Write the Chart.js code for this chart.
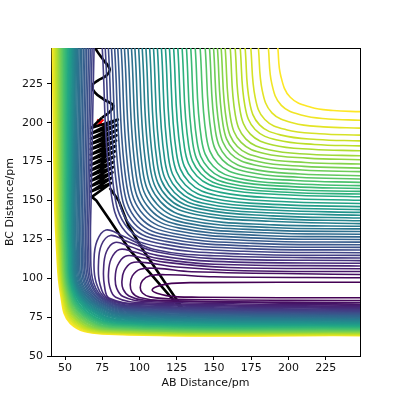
<!DOCTYPE html>
<html>
<head>
<meta charset="utf-8">
<script src="https://cdn.jsdelivr.net/npm/chart.js@4"></script>
<style>
  html, body { margin: 0; padding: 0; background: #fff; }
  canvas { display: block; }
</style>
</head>
<body>
<canvas id="pes" width="400" height="400"></canvas>
<script>
const xTicks = [50, 75, 100, 125, 150, 175, 200, 225];
const yTicks = [50, 75, 100, 125, 150, 175, 200, 225];
const levelCount = 50;

// contour levels 0-8: loops lying in the BC valley (x,y pairs)
const valleyLoops = [
  [248,87.4, 140,87.8, 118,88.8, 108.5,92.4, 118,96.2, 140,97.2, 248,97.4],
  [248,85.7, 125,86.5, 107,88.0, 102,90.5, 100.5,94, 102,98.5, 107,101.6, 120,102.2, 150,100.9, 248,100.3],
  [248,84.3, 115,85.6, 100,87.6, 95,91, 93.8,96, 95.2,101.5, 100.5,105.8, 112,106.3, 135,104.2, 248,102.4],
  [248,83.3, 103.8,85.8, 93,88.6, 89,93, 88.2,98, 89.6,104.5, 94.5,109.8, 104,110, 125,107.2, 170,104.8, 248,104.3],
  [248,82.5, 103.1,85.0, 89,88.2, 84.7,93.5, 83.7,100, 85.2,108, 90.5,114.2, 100,113.5, 118,110.2, 160,106.9, 248,106.1],
  [248,81.8, 102.5,84.2, 84,87.8, 80,94.5, 79.2,103, 81,112.5, 86.5,118.5, 96,117, 113,112.6, 150,109, 248,107.9],
  [248,81.1, 101.9,83.5, 79.8,87.1, 76.5,95, 75.9,106, 77.8,117, 83.5,123, 93,120.5, 112,114.7, 150,110.8, 248,109.6],
  [248,80.5, 101.3,82.9, 79.2,86.8, 73.5,96, 72.5,110, 74.5,121.5, 80.5,127.5, 91,124, 112,116.8, 150,112.6, 248,111.3],
  [248,79.9, 100.6,82.2, 78.6,86.4, 71,97, 69.5,112, 71.5,124, 77.5,131, 88,127.5, 110,118.5, 150,114.4, 248,113.0]
];

// contour levels 9-49: branch along the repulsive wall
const wallLines = [
  [69.5,248, 67.5,150, 67.2,118, 69.2,97.0, 78.0,86.0, 100.0,81.6, 248,79.3],
  [68.2,248, 66.3,150, 66.0,118, 68.0,96.8, 77.4,85.6, 99.4,81.1, 248,78.8],
  [67.0,248, 65.2,150, 64.9,118, 67.0,96.7, 76.8,85.3, 98.8,80.5, 248,78.3],
  [65.8,248, 64.1,150, 63.9,118, 65.9,96.5, 76.2,84.9, 98.1,80.0, 248,77.8],
  [64.6,248, 63.0,150, 62.8,118, 64.9,96.3, 75.6,84.5, 97.5,79.5, 248,77.3],
  [63.5,248, 61.9,150, 61.9,118, 63.9,96.1, 74.9,84.1, 96.9,79.0, 248,76.8],
  [62.4,248, 60.9,150, 60.9,118, 63.0,96.0, 74.3,83.8, 96.3,78.4, 248,76.3],
  [61.3,248, 59.9,150, 59.9,118, 62.0,95.8, 73.7,83.4, 95.6,77.9, 248,75.8],
  [60.3,248, 59.0,150, 59.0,118, 61.2,95.6, 73.1,83.0, 95.0,77.4, 248,75.3],
  [59.4,248, 58.2,150, 58.3,118, 60.4,95.4, 72.5,82.6, 94.4,76.8, 248,74.8],
  [58.5,248, 57.4,150, 57.5,118, 59.7,95.3, 71.9,82.3, 93.8,76.3, 248,74.3],
  [57.7,248, 56.7,150, 56.8,118, 59.0,95.1, 71.3,81.9, 93.1,75.8, 248,73.8],
  [57.0,248, 56.1,150, 56.3,118, 58.4,94.9, 70.7,81.5, 92.5,75.2, 248,73.3],
  [56.5,248, 55.6,150, 55.8,118, 58.0,94.7, 70.0,81.1, 91.9,74.7, 248,72.8],
  [55.9,248, 55.1,150, 55.4,118, 57.6,94.6, 69.4,80.8, 91.3,74.2, 248,72.3],
  [55.3,248, 54.6,150, 55.0,118, 57.2,94.4, 68.8,80.4, 90.6,73.7, 248,71.8],
  [54.8,248, 54.2,150, 54.6,118, 56.8,94.2, 68.2,80.0, 90.0,73.1, 248,71.3],
  [54.2,248, 53.7,150, 54.1,118, 56.4,94.0, 67.6,79.6, 89.4,72.7, 248,70.9],
  [53.7,248, 53.3,150, 53.7,118, 56.0,93.9, 67.0,79.3, 88.8,72.3, 248,70.5],
  [53.1,248, 52.8,150, 53.3,118, 55.6,93.7, 66.4,78.9, 88.1,71.8, 248,70.1],
  [52.6,248, 52.4,150, 52.9,118, 55.2,93.5, 65.8,78.5, 87.5,71.4, 248,69.7],
  [52.0,248, 51.8,150, 52.4,118, 54.8,93.3, 65.1,78.1, 86.9,71.0, 248,69.3],
  [51.5,248, 51.4,150, 52.1,118, 54.4,93.2, 64.5,77.8, 86.3,70.5, 248,68.9],
  [50.9,248, 50.9,150, 51.6,118, 53.9,93.0, 63.9,77.4, 85.6,70.1, 248,68.5],
  [50.4,248, 50.5,150, 51.2,118, 53.6,92.8, 63.3,77.0, 85.0,69.7, 248,68.1],
  [49.8,248, 50.0,150, 50.8,118, 53.1,92.6, 62.7,76.6, 84.4,69.3, 248,67.7],
  [49.2,248, 49.5,150, 50.3,118, 52.7,92.5, 62.1,76.3, 83.8,68.8, 248,67.3],
  [48.7,248, 49.1,150, 49.9,118, 52.3,92.3, 61.5,75.9, 83.1,68.5, 248,66.95],
  [48.1,248, 48.6,150, 49.4,118, 51.9,92.1, 60.9,75.5, 82.5,68.1, 248,66.6],
  [47.6,248, 48.1,150, 49.1,118, 51.5,91.9, 60.3,75.1, 81.9,67.7, 248,66.25],
  [47.0,248, 47.6,150, 48.6,118, 51.1,91.8, 59.6,74.8, 81.3,67.3, 248,65.9],
  [46.5,248, 47.2,150, 48.2,118, 50.7,91.6, 59.0,74.4, 80.6,67.0, 248,65.6],
  [45.9,248, 46.7,150, 47.8,118, 50.2,91.4, 58.4,74.0, 80.0,66.7, 248,65.3],
  [45.4,248, 46.3,150, 47.4,118, 49.9,91.2, 57.8,73.6, 79.4,66.3, 248,65.0],
  [44.8,248, 45.8,150, 46.9,118, 49.4,91.1, 57.2,73.3, 78.8,66.0, 248,64.7],
  [44.3,248, 45.4,150, 46.6,118, 49.1,90.9, 56.6,72.9, 78.1,65.7, 248,64.4],
  [43.7,248, 44.9,150, 46.1,118, 48.6,90.7, 56.0,72.5, 77.5,65.3, 248,64.1],
  [43.2,248, 44.4,150, 45.7,118, 48.3,90.5, 55.4,72.1, 76.9,65.1, 248,63.85],
  [42.6,248, 43.9,150, 45.2,118, 47.8,90.4, 54.8,71.8, 76.3,64.8, 248,63.6],
  [42.1,248, 43.5,150, 44.9,118, 47.5,90.2, 54.1,71.4, 75.6,64.5, 248,63.35],
  [41.5,248, 43.0,150, 44.4,118, 47.0,90.0, 53.5,71.0, 75.0,64.2, 248,63.1]
];

// contour levels 9-49: branch towards the dissociation plateau
const outerLines = [
  [75.0,248, 80.5,158.0, 90.5,130.0, 114.0,120.0, 168,115.6, 248,114.7],
  [77.0,248, 82.5,159.0, 92.5,131.8, 115.8,121.9, 170,117.3, 248,116.4],
  [79.1,248, 84.6,160.0, 94.5,133.5, 117.6,123.7, 172,119.0, 248,118.1],
  [81.2,248, 86.7,161.0, 96.5,135.2, 119.4,125.4, 174,120.7, 248,119.8],
  [83.3,248, 88.8,162.0, 98.6,137.0, 121.2,127.1, 176,122.4, 248,121.5],
  [85.4,248, 90.9,163.0, 100.7,138.8, 123.0,128.8, 178,124.1, 248,123.2],
  [87.7,248, 93.1,164.1, 102.9,140.6, 124.9,130.5, 180,125.8, 248,124.9],
  [89.9,248, 95.4,165.3, 105.1,142.4, 126.8,132.2, 182,127.5, 248,126.6],
  [92.2,248, 97.7,166.6, 107.3,144.1, 128.7,133.9, 184,129.2, 248,128.3],
  [94.6,248, 100.0,167.8, 109.6,145.8, 130.6,135.6, 186,130.9, 248,130.0],
  [96.9,248, 102.2,169.2, 111.8,147.5, 132.6,137.3, 188,132.6, 248,131.7],
  [99.4,248, 104.6,170.5, 114.2,149.1, 134.6,139.0, 190,134.3, 248,133.4],
  [101.8,248, 107.1,171.5, 116.6,150.5, 137.6,141.0, 187.3,136.6, 248,135.1],
  [104.3,248, 109.4,172.6, 118.8,152.0, 139.4,142.6, 188.3,138.3, 248,136.9],
  [106.8,248, 111.9,173.9, 121.1,153.6, 141.4,144.4, 189.4,140.1, 248,138.7],
  [109.4,248, 114.3,175.0, 123.4,155.1, 143.3,146.0, 190.4,141.9, 248,140.5],
  [112.0,248, 116.9,176.2, 125.8,156.6, 145.4,147.7, 191.6,143.7, 248,142.3],
  [114.7,248, 119.5,177.4, 128.2,158.2, 147.4,149.5, 192.7,145.5, 248,144.1],
  [117.4,248, 122.2,178.9, 130.8,159.9, 149.8,151.3, 194.0,147.3, 248,146.0],
  [120.1,248, 124.8,180.4, 133.3,161.7, 152.0,153.2, 195.2,149.3, 248,148.0],
  [122.9,248, 127.5,182.1, 135.9,163.6, 154.4,155.2, 196.5,151.4, 248,150.1],
  [125.7,248, 130.2,183.9, 138.5,165.7, 156.7,157.4, 197.8,153.7, 248,152.4],
  [128.6,248, 133.0,185.2, 141.2,167.2, 159.2,159.0, 199.2,155.3, 248,154.1],
  [131.5,248, 135.8,186.5, 143.9,168.7, 161.7,160.6, 200.5,157.0, 248,155.8],
  [134.4,248, 138.6,187.9, 146.6,170.4, 164.1,162.4, 201.9,158.9, 248,157.7],
  [137.4,248, 141.6,189.3, 149.5,172.0, 166.8,164.1, 203.3,160.7, 248,159.5],
  [140.7,248, 144.9,190.9, 152.6,173.9, 169.6,166.2, 204.9,162.8, 248,161.6],
  [144.1,248, 148.2,192.7, 155.8,175.9, 172.6,168.3, 206.5,164.9, 248,163.8],
  [147.0,248, 151.0,194.4, 158.5,177.8, 175.1,170.3, 207.9,167.0, 248,165.9],
  [149.7,248, 153.6,196.5, 161.0,180.2, 177.3,172.8, 209.1,169.6, 248,168.5],
  [152.3,248, 156.1,198.4, 163.4,182.3, 179.5,175.0, 210.3,171.9, 248,170.8],
  [154.8,248, 158.5,200.5, 165.7,184.7, 181.5,177.5, 211.4,174.4, 248,173.4],
  [157.5,248, 161.1,202.9, 168.2,187.3, 183.8,180.2, 212.7,177.2, 248,176.2],
  [160.9,248, 164.3,205.0, 171.3,189.6, 186.7,182.6, 214.3,179.7, 248,178.7],
  [164.2,248, 167.5,207.7, 174.4,192.6, 189.5,185.7, 215.8,182.9, 248,181.9],
  [167.6,248, 170.8,210.5, 177.6,195.6, 192.5,188.8, 217.5,186.0, 248,185.1],
  [170.9,248, 173.9,213.2, 180.6,198.6, 195.2,192.0, 219.0,189.2, 248,188.3],
  [174.7,248, 177.6,216.4, 184.1,202.0, 198.5,195.5, 220.8,192.9, 248,192.0],
  [179.8,248, 182.4,220.6, 188.9,206.3, 203.2,199.8, 223.4,197.3, 248,196.5],
  [186.5,248, 188.8,225.1, 195.2,211.1, 209.2,204.7, 226.7,202.4, 248,201.6],
  [192.85,248, 194.8,230.2, 201.2,216.3, 215.1,209.9, 229.9,207.8, 248,207.1]
];

// trajectory, upper smooth part (AB, BC)
const topAB = [69.3, 71.5, 76.0, 80.0, 78.0, 72.0, 68.3, 70.0, 76.0, 82.4, 80.0, 74.8];
const topBC = [250.0, 246.0, 240.0, 234.5, 230.5, 227.0, 224.0, 219.5, 215.0, 211.0, 207.0, 203.2];

// trajectory, vibrating part and excursion into the BC valley (AB, BC)
const trajAB = [74.8,
  67.5, 85.5, 67.5, 85.2, 67.4, 84.9, 67.3, 84.6, 67.3, 84.3, 67.2, 83.9, 67.1, 83.5,
  67.1, 83.1, 67.0, 82.7, 67.0, 82.3, 67.1, 81.9, 67.2, 81.5, 67.4, 81.1, 68.0,
  71.0, 80.0, 93.8, 105.5, 120.0, 133.5,
  131.5, 118.0, 102.7, 92.5, 86.0, 80.0];
const trajBC = [203.2,
  196.5, 202.0, 193.1, 198.6, 189.7, 195.2, 186.3, 191.8, 182.9, 188.4, 179.5, 185.0, 176.1, 181.6,
  172.7, 178.2, 169.3, 174.8, 165.9, 171.4, 162.5, 168.0, 159.1, 164.6, 155.7, 161.2, 152.3,
  150.0, 137.5, 117.7, 105.0, 89.0, 74.8,
  77.0, 96.0, 117.7, 134.0, 150.0, 158.0];

const startAB = [73.7];
const startBC = [200];

const viridisStops = ['#440154', '#482475', '#414487', '#355f8d', '#2a788e', '#21918c',
  '#22a884', '#44bf70', '#7ad151', '#bddf26', '#fde725'];

function hexRgb(h) {
  return [parseInt(h.slice(1, 3), 16), parseInt(h.slice(3, 5), 16), parseInt(h.slice(5, 7), 16)];
}

function viridis(t) {
  const pos = t * (viridisStops.length - 1);
  const i = Math.min(Math.floor(pos), viridisStops.length - 2);
  const f = pos - i;
  const a = hexRgb(viridisStops[i]);
  const b = hexRgb(viridisStops[i + 1]);
  const c = a.map((v, j) => Math.round(v + (b[j] - v) * f));
  return `rgb(${c[0]}, ${c[1]}, ${c[2]})`;
}

const datasets = [];

function addContour(flat, level) {
  const pts = [];
  for (let i = 0; i < flat.length; i += 2) {
    pts.push({ x: flat[i], y: flat[i + 1] });
  }
  datasets.push({
    data: pts,
    showLine: true,
    borderColor: viridis(level / (levelCount - 1)),
    borderWidth: 1.6,
    pointRadius: 0,
    tension: 0.4,
    fill: false
  });
}

for (let k = 0; k < levelCount; k++) {
  if (k < valleyLoops.length) {
    addContour(valleyLoops[k], k);
  } else {
    addContour(wallLines[k - valleyLoops.length], k);
    addContour(outerLines[k - valleyLoops.length], k);
  }
}

datasets.push({
  data: topAB.map((v, i) => ({ x: v, y: topBC[i] })),
  showLine: true,
  borderColor: '#000',
  borderWidth: 2.6,
  pointRadius: 0,
  tension: 0.4,
  fill: false
});

datasets.push({
  data: trajAB.map((v, i) => ({ x: v, y: trajBC[i] })),
  showLine: true,
  borderColor: '#000',
  borderWidth: 2.6,
  borderJoinStyle: 'round',
  pointRadius: 0,
  tension: 0,
  fill: false
});

datasets.push({
  data: startAB.map((v, i) => ({ x: v, y: startBC[i] })),
  showLine: false,
  pointStyle: 'crossRot',
  pointRadius: 4.5,
  borderColor: '#ff0000',
  borderWidth: 2
});

const tickFont = { family: 'DejaVu Sans', size: 11 };

new Chart(document.getElementById('pes'), {
  type: 'scatter',
  data: { datasets: datasets },
  options: {
    responsive: false,
    animation: false,
    devicePixelRatio: 1,
    events: [],
    layout: { padding: { left: 0, right: 40, top: 48, bottom: 0 } },
    plugins: { legend: { display: false }, tooltip: { enabled: false } },
    scales: {
      x: {
        type: 'linear',
        position: 'bottom',
        min: 40.6,
        max: 248,
        z: 1,
        afterBuildTicks: axis => { axis.ticks = xTicks.map(v => ({ value: v })); },
        afterFit: axis => { axis.height = 44; },
        ticks: { font: tickFont, color: '#111', padding: 2, maxRotation: 0 },
        grid: { drawOnChartArea: false, tickLength: 4, color: '#000', lineWidth: 1 },
        border: { color: '#000', width: 1 },
        title: { display: true, text: 'AB Distance/pm', font: tickFont, color: '#111', padding: { top: 0, bottom: 10 } }
      },
      y: {
        type: 'linear',
        position: 'left',
        min: 50,
        max: 248,
        z: 1,
        afterBuildTicks: axis => { axis.ticks = yTicks.map(v => ({ value: v })); },
        afterFit: axis => { axis.width = 51; },
        ticks: { font: tickFont, color: '#111', padding: 4 },
        grid: { drawOnChartArea: false, tickLength: 4, color: '#000', lineWidth: 1 },
        border: { color: '#000', width: 1 },
        title: { display: true, text: 'BC Distance/pm', font: tickFont, color: '#111', padding: { top: 4, bottom: 0 } }
      },
      x2: {
        type: 'linear',
        position: 'top',
        min: 40.6,
        max: 248,
        z: 1,
        afterFit: axis => { axis.height = 0; },
        ticks: { display: false },
        grid: { display: false },
        border: { display: true, color: '#000', width: 1 }
      },
      y2: {
        type: 'linear',
        position: 'right',
        min: 50,
        max: 248,
        z: 1,
        afterFit: axis => { axis.width = 0; },
        ticks: { display: false },
        grid: { display: false },
        border: { display: true, color: '#000', width: 1 }
      }
    }
  }
});
</script>
</body>
</html>
